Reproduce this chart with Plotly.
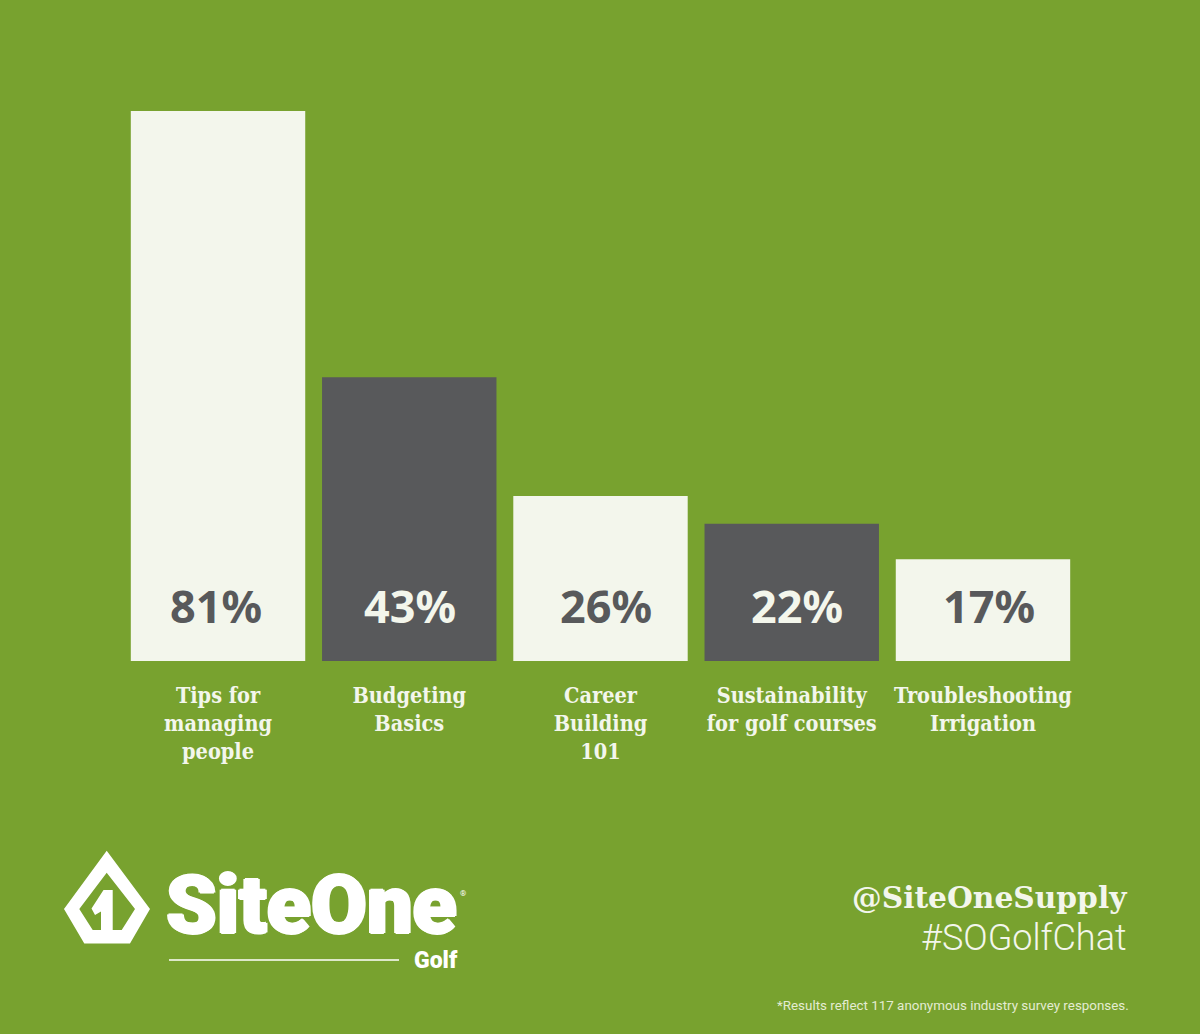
import plotly.graph_objects as go

W, H = 1200, 1034
GREEN = '#78a22f'
LIGHT = '#f3f6ec'
DARK = '#58595b'
WHITE = '#ffffff'

# labels as printed, bar heights as drawn (the artwork is not quite to scale)
categories = ['Tips for<br>managing<br>people', 'Budgeting<br>Basics', 'Career<br>Building<br>101',
              'Sustainability<br>for golf courses', 'Troubleshooting<br>Irrigation']
percent_labels = ['81%', '43%', '26%', '22%', '17%']
bar_heights = [81, 41.8, 24.3, 20.2, 15.0]

bar_colors = [LIGHT, DARK, LIGHT, DARK, LIGHT]
label_colors = [DARK, LIGHT, DARK, LIGHT, DARK]
label_nudge = [-2, 1, 5, 5, 6]

# plot area in pixels
LEFT, RIGHT, TOP, BOTTOM = 122.4, 1078.6, 111, 661


def px(x):
    return x / W


def py(y):
    return 1 - y / H


def poly(points):
    path = 'M ' + ' L '.join(f'{px(x):.5f} {py(y):.5f}' for x, y in points) + ' Z'
    return path


logo_outer = [(106.7, 850.7), (150, 909), (130, 943.5), (84.3, 943.5), (64, 909)]
logo_inner = [(106.7, 872.7), (135, 909), (121.7, 930), (92.7, 930), (79.3, 909)]
logo_one = [(101, 930), (112.7, 930), (112.7, 890), (103.5, 890), (91.5, 908.5), (95, 915), (101, 911.5)]

fig = go.Figure()
fig.add_trace(go.Bar(
    x=categories,
    y=bar_heights,
    marker=dict(color=bar_colors, line=dict(width=0)),
    hoverinfo='skip',
))

annotations = []
for cat, label, color, nudge in zip(categories, percent_labels, label_colors, label_nudge):
    annotations.append(dict(
        x=cat, y=0, xref='x', yref='y', text=label, showarrow=False,
        xshift=nudge, yshift=56, yanchor='middle',
        font=dict(family='Noto Sans', size=45, color=color, weight=700),
    ))


def page_text(x, y, text, anchor, family, size, color, weight=400, shadow=None):
    font = dict(family=family, size=size, color=color, weight=weight)
    if shadow:
        font['shadow'] = shadow
    annotations.append(dict(
        x=px(x), y=py(y), xref='paper', yref='paper', text=text, showarrow=False,
        xanchor=anchor, yanchor='middle', borderpad=0, font=font,
    ))


# logotype is heavier than any installed face, so thicken it a little
page_text(311.5, 905, 'SiteOne', 'center', 'Roboto', 81, WHITE, 900,
          shadow='1.5px 0 0 #fff, -1.5px 0 0 #fff, 0 1px 0 #fff, 0 -1px 0 #fff')
page_text(463, 893, '®', 'center', 'Roboto', 8, WHITE)
page_text(435.5, 960, 'Golf', 'center', 'Roboto', 23, WHITE, 900)
page_text(1128, 897, '@SiteOneSupply', 'right', 'DejaVu Serif', 29.7, LIGHT, 700)
page_text(1128, 938, '#SOGolfChat', 'right', 'Roboto', 36, LIGHT, 300)
page_text(1130, 1005, '*Results reflect 117 anonymous industry survey responses.', 'right', 'Roboto', 13.4, '#e4ecd2')

shapes = [
    dict(type='path', xref='paper', yref='paper', path=poly(logo_outer) + ' ' + poly(logo_inner),
         fillcolor=WHITE, line=dict(width=0), fillrule='evenodd'),
    dict(type='path', xref='paper', yref='paper', path=poly(logo_one),
         fillcolor=WHITE, line=dict(width=0)),
    dict(type='line', xref='paper', yref='paper', x0=px(169), x1=px(399), y0=py(960), y1=py(960),
         line=dict(color=WHITE, width=1.5)),
]

fig.update_layout(
    width=W,
    height=H,
    margin=dict(l=0, r=0, t=0, b=0),
    paper_bgcolor=GREEN,
    plot_bgcolor=GREEN,
    showlegend=False,
    bargap=0.088,
    annotations=annotations,
    shapes=shapes,
    xaxis=dict(
        domain=[LEFT / W, RIGHT / W],
        showgrid=False, zeroline=False, showline=False,
        ticks='outside', ticklen=15.5, tickcolor=GREEN, tickangle=0,
        tickfont=dict(family='DejaVu Serif Condensed', size=21.5, color=LIGHT, weight=700),
    ),
    yaxis=dict(
        domain=[1 - BOTTOM / H, 1 - TOP / H],
        range=[0, 81],
        visible=False,
    ),
)

# page margin would push the figure 8px off the window
fig.write_html('out.html', config={'displayModeBar': False},
               post_script="document.body.style.margin='0';")
